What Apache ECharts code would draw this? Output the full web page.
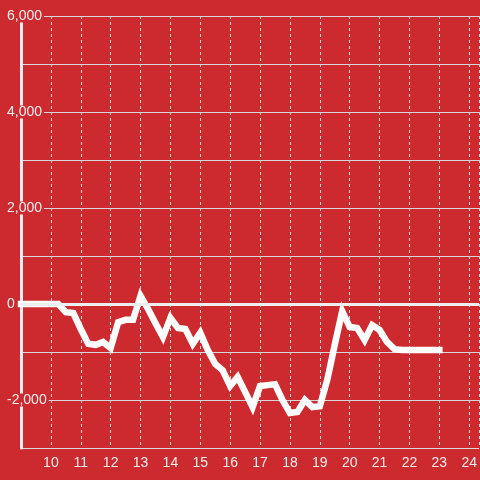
<!DOCTYPE html>
<html>
<head>
<meta charset="utf-8">
<script src="https://cdn.jsdelivr.net/npm/echarts@6/dist/echarts.min.js"></script>
<style>
html,body{margin:0;padding:0;background:#cc2a2f;}
#chart{width:480px;height:480px;}
</style>
</head>
<body>
<div id="chart"></div>
<script>
// hours (quarter-hour steps) and running values
const hours = [9.0,9.25,9.5,9.75,10.0,10.25,10.5,10.75,11.0,11.25,11.5,11.75,12.0,12.25,12.5,12.75,13.0,13.25,13.5,13.75,14.0,14.25,14.5,14.75,15.0,15.25,15.5,15.75,16.0,16.25,16.5,16.75,17.0,17.25,17.5,17.75,18.0,18.25,18.5,18.75,19.0,19.25,19.5,19.75,20.0,20.25,20.5,20.75,21.0,21.25,21.5,21.75,22.0,22.25,22.5,22.75,23.0];
const values = [0,0,0,0,0,0,-170,-190,-520,-830,-850,-790,-920,-380,-330,-330,170,-100,-400,-690,-290,-500,-520,-830,-600,-960,-1250,-1380,-1710,-1520,-1830,-2150,-1710,-1690,-1670,-2000,-2270,-2250,-2000,-2150,-2130,-1580,-850,-150,-480,-500,-750,-440,-540,-790,-940,-960,-960,-960,-960,-960,-960];
const xTicks = [10,11,12,13,14,15,16,17,18,19,20,21,22,23,24];
const yLabelled = [6000,4000,2000,0,-2000];

const bg = '#cc2a2f';
const chart = echarts.init(document.getElementById('chart'));
chart.setOption({
  backgroundColor: bg,
  animation: false,
  grid: {left: 21, right: 0, top: 16, bottom: 32, containLabel: false},
  xAxis: {
    type: 'value', min: 9, max: 24.33, interval: 1,
    axisLine: {show: true, lineStyle: {color: '#d8d8d8', width: 1}},
    axisTick: {show: false},
    axisLabel: {
      color: '#eeeeee', fontSize: 14, fontFamily: 'Liberation Sans, Arial, sans-serif',
      margin: 8, showMinLabel: false, showMaxLabel: false,
      formatter: v => xTicks.includes(v) ? String(v) : ''
    },
    splitLine: {show: true, lineStyle: {color: '#d8d8d8', width: 1, type: [3, 3]}}
  },
  yAxis: {
    type: 'value', min: -3000, max: 6000, interval: 1000,
    axisLine: {show: true, lineStyle: {color: '#eeeeee', width: 3}},
    axisTick: {show: false},
    axisLabel: {
      color: '#eeeeee', fontSize: 14, fontFamily: 'Liberation Sans, Arial, sans-serif',
      align: 'left', margin: 16,
      backgroundColor: bg, padding: [0, 2], lineHeight: 13,
      formatter: v => yLabelled.includes(v) ? v.toLocaleString('en-US') : ''
    },
    splitLine: {show: true, lineStyle: {color: '#d8d8d8', width: 1}}
  },
  series: [{
    type: 'line',
    data: hours.map((h, i) => [h, values[i]]),
    showSymbol: false,
    symbol: 'none',
    clip: false,
    lineStyle: {color: '#ffffff', width: 6.5, cap: 'square', join: 'miter'},
    markLine: {
      silent: true, symbol: 'none', label: {show: false},
      lineStyle: {color: '#eeeeee', width: 3, type: 'solid'},
      data: [{yAxis: 0}]
    }
  }]
});
</script>
</body>
</html>
